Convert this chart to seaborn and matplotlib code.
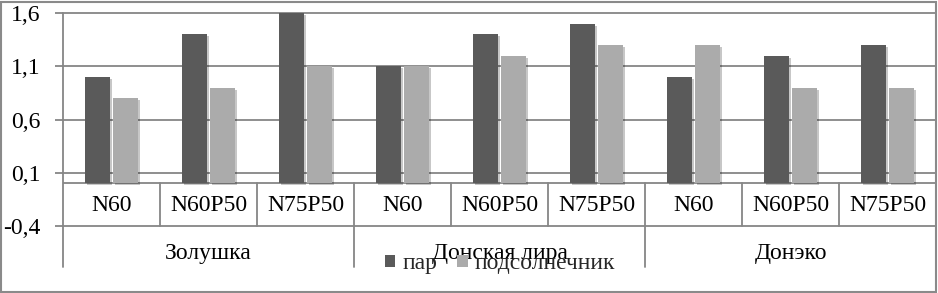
import matplotlib
matplotlib.use("Agg")
import matplotlib.pyplot as plt
import seaborn as sns
import pandas as pd
from matplotlib.patches import Patch, Rectangle
import matplotlib.patheffects as pe

groups = ["Золушка", "Донская лира", "Донэко"]
treatments = ["N60", "N60P50", "N75P50"]
series = ["пар", "подсолнечник"]
par = [1.0, 1.4, 1.6, 1.1, 1.4, 1.5, 1.0, 1.2, 1.3]
podsol = [0.8, 0.9, 1.1, 1.1, 1.2, 1.3, 1.3, 0.9, 0.9]
yticks = [-0.4, 0.1, 0.6, 1.1, 1.6]
ytick_labels = ["-0,4", "0,1", "0,6", "1,1", "1,6"]
colors = ["#5a5a5a", "#ababab"]

rows = []
keys = []
for gi, g in enumerate(groups):
    for ti, t in enumerate(treatments):
        k = f"{g}|{t}"
        keys.append(k)
        i = gi * 3 + ti
        rows.append((k, series[0], par[i]))
        rows.append((k, series[1], podsol[i]))
df = pd.DataFrame(rows, columns=["key", "series", "value"])

sns.set_style("white")
plt.rcParams["font.family"] = ["Liberation Serif", "DejaVu Serif"]
FS = 17
GRID = "#868686"

W, H = 938, 293
fig = plt.figure(figsize=(W / 100, H / 100), dpi=100)
ax = fig.add_axes([63 / W, 1 - 226 / H, (936 - 63) / W, (226 - 13) / H])
sns.barplot(data=df, x="key", y="value", hue="series", order=keys,
            hue_order=series, palette=colors, width=0.572, gap=0.08,
            ax=ax, legend=False, saturation=1, linewidth=0, zorder=3)
for p in ax.patches:
    p.set_path_effects([pe.SimplePatchShadow(offset=(1.5, -1.5),
                                             shadow_rgbFace="#000000", alpha=0.22),
                        pe.Normal()])

ax.set_xlim(-0.5, 8.5)
ax.set_ylim(-0.4, 1.6)
for s in ax.spines.values():
    s.set_visible(False)
for y in yticks:
    ax.axhline(y, color=GRID, lw=1.3, zorder=1, clip_on=False)
ax.axhline(0, color=GRID, lw=1.3, zorder=2)
ax.set_yticks(yticks, ytick_labels)
ax.tick_params(axis="y", length=6, width=1.3, color=GRID, labelsize=FS,
               pad=10, left=True, labelcolor="black")
ax.set_xticks([])
ax.set_xlabel("")
ax.set_ylabel("")

# left axis line extending into the category table
ax.plot([-0.5, -0.5], [1.6, -0.785], color=GRID, lw=1.3, clip_on=False, zorder=2)
# category separators
for k in range(1, 9):
    x = k - 0.5
    if k in (3, 6):
        ax.plot([x, x], [0, -0.785], color=GRID, lw=1.3, clip_on=False, zorder=2)
    else:
        ax.plot([x, x], [0, -0.4], color=GRID, lw=1.3, clip_on=False, zorder=2)

for gi, g in enumerate(groups):
    for ti, t in enumerate(treatments):
        ax.text(gi * 3 + ti, -0.205, t, ha="center", va="center", fontsize=FS,
                color="black")
    ax.text(gi * 3 + 1, -0.66, g, ha="center", va="center", fontsize=FS,
            color="black", clip_on=False)

handles = [Patch(facecolor=c, edgecolor="none") for c in colors]
fig.legend(handles=handles, labels=series, loc="center",
           bbox_to_anchor=(500 / W, 1 - 264 / H), ncol=2, frameon=False,
           handlelength=0.45, handleheight=0.45, handletextpad=0.3,
           columnspacing=0.85, fontsize=FS, borderpad=0, borderaxespad=0)

fig.add_artist(Rectangle((1 / W, 1 / H), (W - 3) / W, (H - 3) / H,
                         transform=fig.transFigure, fill=False,
                         edgecolor="#8a8a8a", lw=1.5))

fig.savefig("out.png", dpi=100)
